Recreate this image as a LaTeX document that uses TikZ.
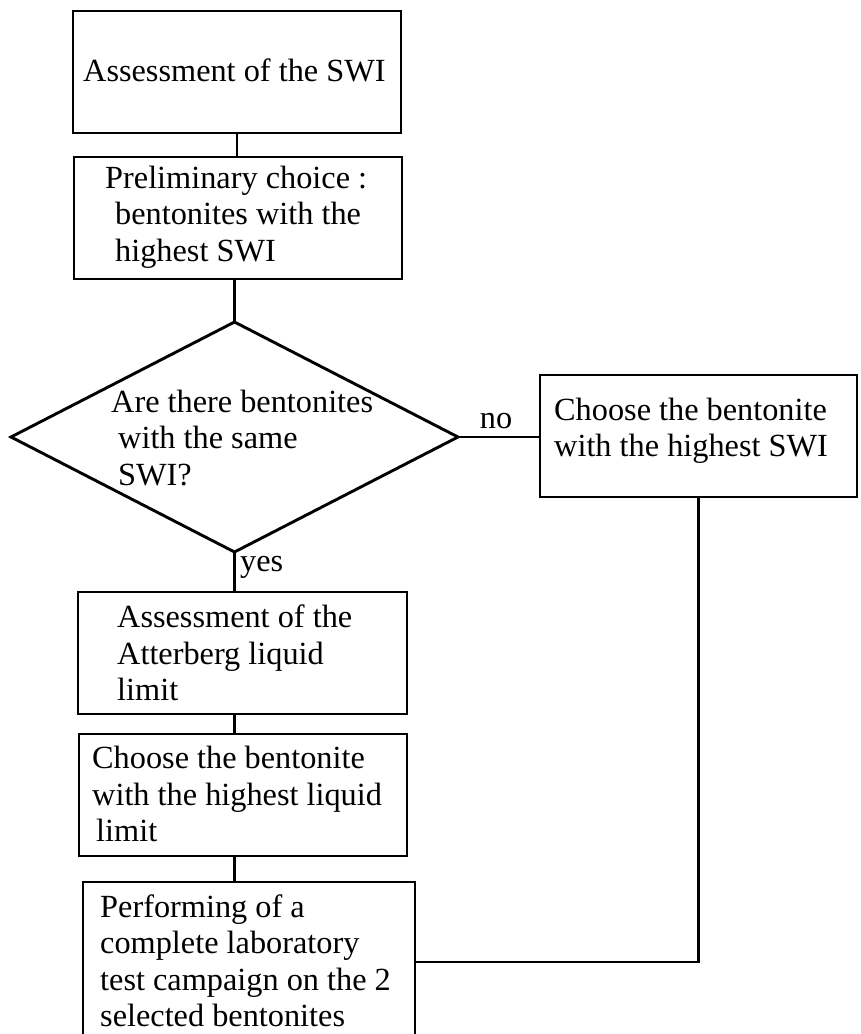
\documentclass[tikz,border=0pt]{standalone}
\usepackage{fontspec}
\setmainfont{Liberation Serif}
\usetikzlibrary{shapes.geometric}
\begin{document}
\begin{tikzpicture}[x=1pt,y=-1pt,
  box/.style={draw=black, line width=2.9pt, rectangle, inner sep=0pt, outer sep=0pt},
  dia/.style={draw=black, line width=2.9pt, diamond, inner sep=0pt, outer sep=0pt},
  conn/.style={draw=black, line width=2.9pt},
  txt/.style={font=\fontsize{32.3pt}{36.5pt}\selectfont, align=left, inner sep=0pt, anchor=west, text=black},
  lab/.style={font=\fontsize{32.3pt}{36.5pt}\selectfont, inner sep=0pt, text=black}]
\useasboundingbox (0,0) rectangle (860,1034);
\clip (0,0) rectangle (860,1034);
% boxes
\node[box, minimum width=328pt, minimum height=122pt] (b1) at (237,72) {};
\node[box, minimum width=328pt, minimum height=122pt] (b2) at (238,218) {};
\node[dia, minimum width=447pt, minimum height=230pt] (d) at (234.5,437) {};
\node[box, minimum width=317pt, minimum height=122pt] (r) at (698.5,436) {};
\node[box, minimum width=329pt, minimum height=122pt] (b3) at (242.5,653) {};
\node[box, minimum width=328pt, minimum height=122pt] (b4) at (243,795) {};
\node[box, minimum width=332pt, minimum height=160pt] (b5) at (249,962) {};
% texts
\node[txt] (t1) at (83,70) {Assessment of the SWI};
\node[txt] (t2) at (105,217) {Preliminary choice :\\\hspace*{10pt}bentonites with the\\\hspace*{10pt}highest SWI};
\node[txt] (td) at (111,438) {Are there bentonites\\\hspace*{7pt}with the same\\\hspace*{7pt}SWI?};
\node[txt] (tr) at (554,431) {Choose the bentonite\\with the highest SWI};
\node[txt] (t3) at (117,653) {Assessment of the\\Atterberg liquid\\limit};
\node[txt] (t4) at (92,794) {Choose the bentonite\\with the highest liquid\\\hspace*{4pt}limit};
\node[txt] (t5) at (100,961) {Performing of a\\complete laboratory\\test campaign on the 2\\selected bentonites};
% labels
\node[lab] (no) at (496,421) {no};
\node[lab, anchor=west] (yes) at (240,567) {yes};
% connectors
\draw[conn] (b1.south) -- (b1.south |- b2.north);
\draw[conn] (d.north |- b2.south) -- (d.north);
\draw[conn] (d.east) -- (d.east -| r.west);
\draw[conn] (d.south) -- (d.south |- b3.north);
\draw[conn] (d.south |- b3.south) -- (d.south |- b4.north);
\draw[conn] (d.south |- b4.south) -- (d.south |- b5.north);
\draw[conn] (r.south) |- (b5.east);
\end{tikzpicture}
\end{document}
